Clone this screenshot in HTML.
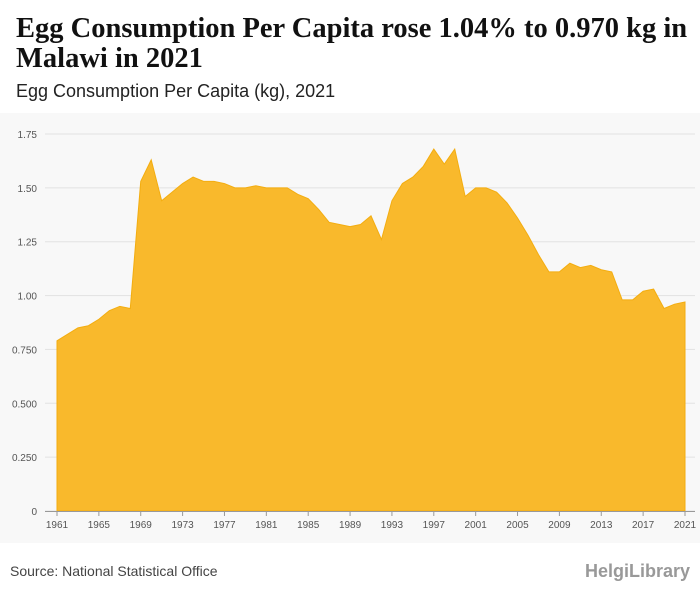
<!DOCTYPE html>
<html><head><meta charset="utf-8">
<style>
body{margin:0;width:700px;height:596px;background:#fff;font-family:"Liberation Sans",sans-serif;overflow:hidden;position:relative}
#title{position:absolute;left:16px;top:14px;font-family:"Liberation Serif",serif;font-weight:bold;font-size:28.5px;line-height:30px;color:#111;width:684px}
#sub{position:absolute;left:16px;top:81px;font-size:18px;color:#222}
#chartbg{position:absolute;left:0;top:113px;width:700px;height:430px;background:#f8f8f8}
svg{position:absolute;left:0;top:0}
#src{position:absolute;left:10px;top:563px;font-size:14px;color:#444}
#logo{position:absolute;right:10px;top:561px;font-size:18px;color:#999;font-weight:bold}
</style></head><body>
<div id="title">Egg Consumption Per Capita rose 1.04% to 0.970 kg in Malawi in 2021</div>
<div id="sub">Egg Consumption Per Capita (kg), 2021</div>
<div id="chartbg"></div>
<svg id="chart" width="700" height="596"></svg>
<div id="src">Source: National Statistical Office</div>
<div id="logo">HelgiLibrary</div>
<script>
const years=[];for(let y=1961;y<=2021;y++)years.push(y);
const values=[0.79,0.82,0.85,0.86,0.89,0.93,0.95,0.94,1.53,1.63,1.44,1.48,1.52,1.55,1.53,1.53,1.52,1.50,1.50,1.51,1.50,1.50,1.50,1.47,1.45,1.40,1.34,1.33,1.32,1.33,1.37,1.26,1.44,1.52,1.55,1.60,1.68,1.61,1.68,1.46,1.50,1.50,1.48,1.43,1.36,1.28,1.19,1.11,1.11,1.15,1.13,1.14,1.12,1.11,0.98,0.98,1.02,1.03,0.94,0.96,0.97];
const yTicks=[0,0.25,0.5,0.75,1.0,1.25,1.5,1.75];
const yTickLabels=["0","0.250","0.500","0.750","1.00","1.25","1.50","1.75"];
const xTicks=[1961,1965,1969,1973,1977,1981,1985,1989,1993,1997,2001,2005,2009,2013,2017,2021];
const NS="http://www.w3.org/2000/svg";
const svg=document.getElementById('chart');
const x0=57,x1=685,y0=511,y1=134;
const X=v=>x0+(v-1961)/(2021-1961)*(x1-x0);
const Y=v=>y0-v/1.75*(y0-y1);
function mk(t,a){const e=document.createElementNS(NS,t);for(const k in a)e.setAttribute(k,a[k]);svg.appendChild(e);return e;}
yTicks.forEach((t,i)=>{
 const l=mk('line',{x1:45,x2:695,y1:Y(t),y2:Y(t),stroke:'#e2e2e2','stroke-width':1});
 
 
 const tx=mk('text',{x:37,y:Y(t)+4,'text-anchor':'end','font-size':10,fill:'#555','font-family':'Liberation Sans'});
 tx.textContent=yTickLabels[i];
 
 
});
let d='M'+X(years[0])+','+Y(0);
years.forEach((yr,i)=>{d+=' L'+X(yr)+','+Y(values[i]);});
d+=' L'+X(years[years.length-1])+','+Y(0)+' Z';
const area=mk('path',{d:d,fill:'#f9b92c',stroke:'#f3ad10','stroke-width':1});


const ax=mk('line',{x1:45,x2:695,y1:y0+0.5,y2:y0+0.5,stroke:'#999','stroke-width':1});


xTicks.forEach(t=>{
 const tk=mk('line',{x1:X(t),x2:X(t),y1:y0,y2:y0+5,stroke:'#999'});
 
 
 const tx=mk('text',{x:X(t),y:y0+17,'text-anchor':'middle','font-size':10,fill:'#555','font-family':'Liberation Sans'});
 tx.textContent=t;
 
 
});
</script>
</body></html>
